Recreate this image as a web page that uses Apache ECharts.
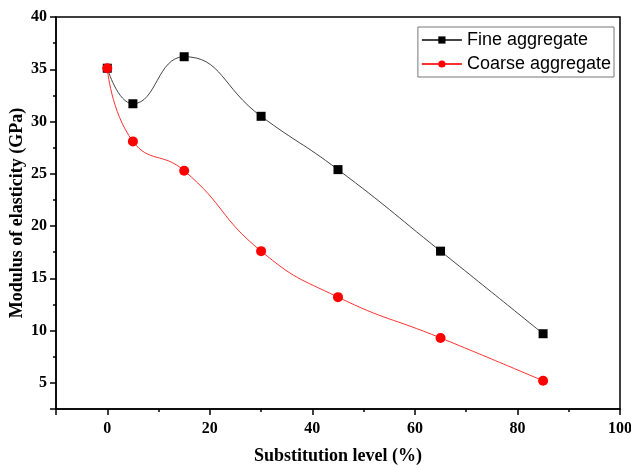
<!DOCTYPE html>
<html>
<head>
<meta charset="utf-8">
<script src="https://cdn.jsdelivr.net/npm/echarts@6/dist/echarts.min.js"></script>
<style>
  html, body { margin: 0; padding: 0; background: #fff; }
  #chart { width: 631px; height: 465px; }
</style>
</head>
<body>
<div id="chart"></div>
<script>
// substitution level (%)
const levels = [0, 5, 15, 30, 45, 65, 85]
// modulus of elasticity (GPa)
const fineValues = [35.1, 31.7, 36.2, 30.5, 25.4, 17.6, 9.7]
const coarseValues = [35.1, 28.1, 25.3, 17.6, 13.2, 9.3, 5.2]

const serifFont = '"Liberation Serif", "Times New Roman", serif'
const sansFont = '"Liberation Sans", Arial, sans-serif'

const chart = echarts.init(document.getElementById('chart'))

const axisCommon = {
  axisLine: { onZero: false, lineStyle: { color: '#000', width: 1.5 } },
  axisTick: { show: true, length: 6, lineStyle: { color: '#000', width: 1.5 } },
  minorTick: { show: true, splitNumber: 2, length: 3, lineStyle: { color: '#000', width: 1.5 } },
  splitLine: { show: false },
  axisLabel: { color: '#000', fontFamily: serifFont, fontWeight: 'bold', fontSize: 16 },
  nameTextStyle: { color: '#000', fontFamily: serifFont, fontWeight: 'bold', fontSize: 18 },
  nameMoveOverlap: false,
}

chart.setOption({
  backgroundColor: '#fff',
  animation: false,
  grid: {
    left: 56,
    right: 11,
    top: 17,
    bottom: 56,
    outerBoundsMode: 'none',
    show: true,
    borderColor: '#000',
    borderWidth: 1.5,
  },
  legend: {
    right: 17,
    top: 27,
    orient: 'vertical',
    itemWidth: 40,
    itemHeight: 9,
    itemGap: 6,
    padding: [4, 3, 4, 3],
    borderColor: '#777',
    borderWidth: 1,
    textStyle: { color: '#000', fontFamily: sansFont, fontSize: 18 },
    data: ['Fine aggregate', 'Coarse aggregate'],
  },
  xAxis: {
    ...axisCommon,
    type: 'value',
    min: -10,
    max: 100,
    name: 'Substitution level (%)',
    nameLocation: 'middle',
    nameGap: 38,
    axisLabel: {
      ...axisCommon.axisLabel,
      margin: 12,
      formatter: (v) => (v < 0 ? '' : v),
    },
  },
  yAxis: {
    ...axisCommon,
    type: 'value',
    min: 2.5,
    max: 40,
    splitNumber: 8,
    name: 'Modulus of elasticity (GPa)',
    nameLocation: 'middle',
    nameGap: 30,
    axisLabel: {
      ...axisCommon.axisLabel,
      margin: 9,
      formatter: (v) => (v % 5 === 0 ? v : ''),
    },
  },
  series: [
    {
      name: 'Fine aggregate',
      type: 'line',
      smooth: 0.5,
      symbol: 'rect',
      symbolSize: 9,
      itemStyle: { color: '#000' },
      lineStyle: { color: '#444', width: 1 },
      data: levels.map((x, i) => [x, fineValues[i]]),
    },
    {
      name: 'Coarse aggregate',
      type: 'line',
      smooth: 0.5,
      symbol: 'circle',
      symbolSize: 10,
      itemStyle: { color: '#ff0000' },
      lineStyle: { color: '#ff3030', width: 1 },
      data: levels.map((x, i) => [x, coarseValues[i]]),
    },
  ],
})
</script>
</body>
</html>
